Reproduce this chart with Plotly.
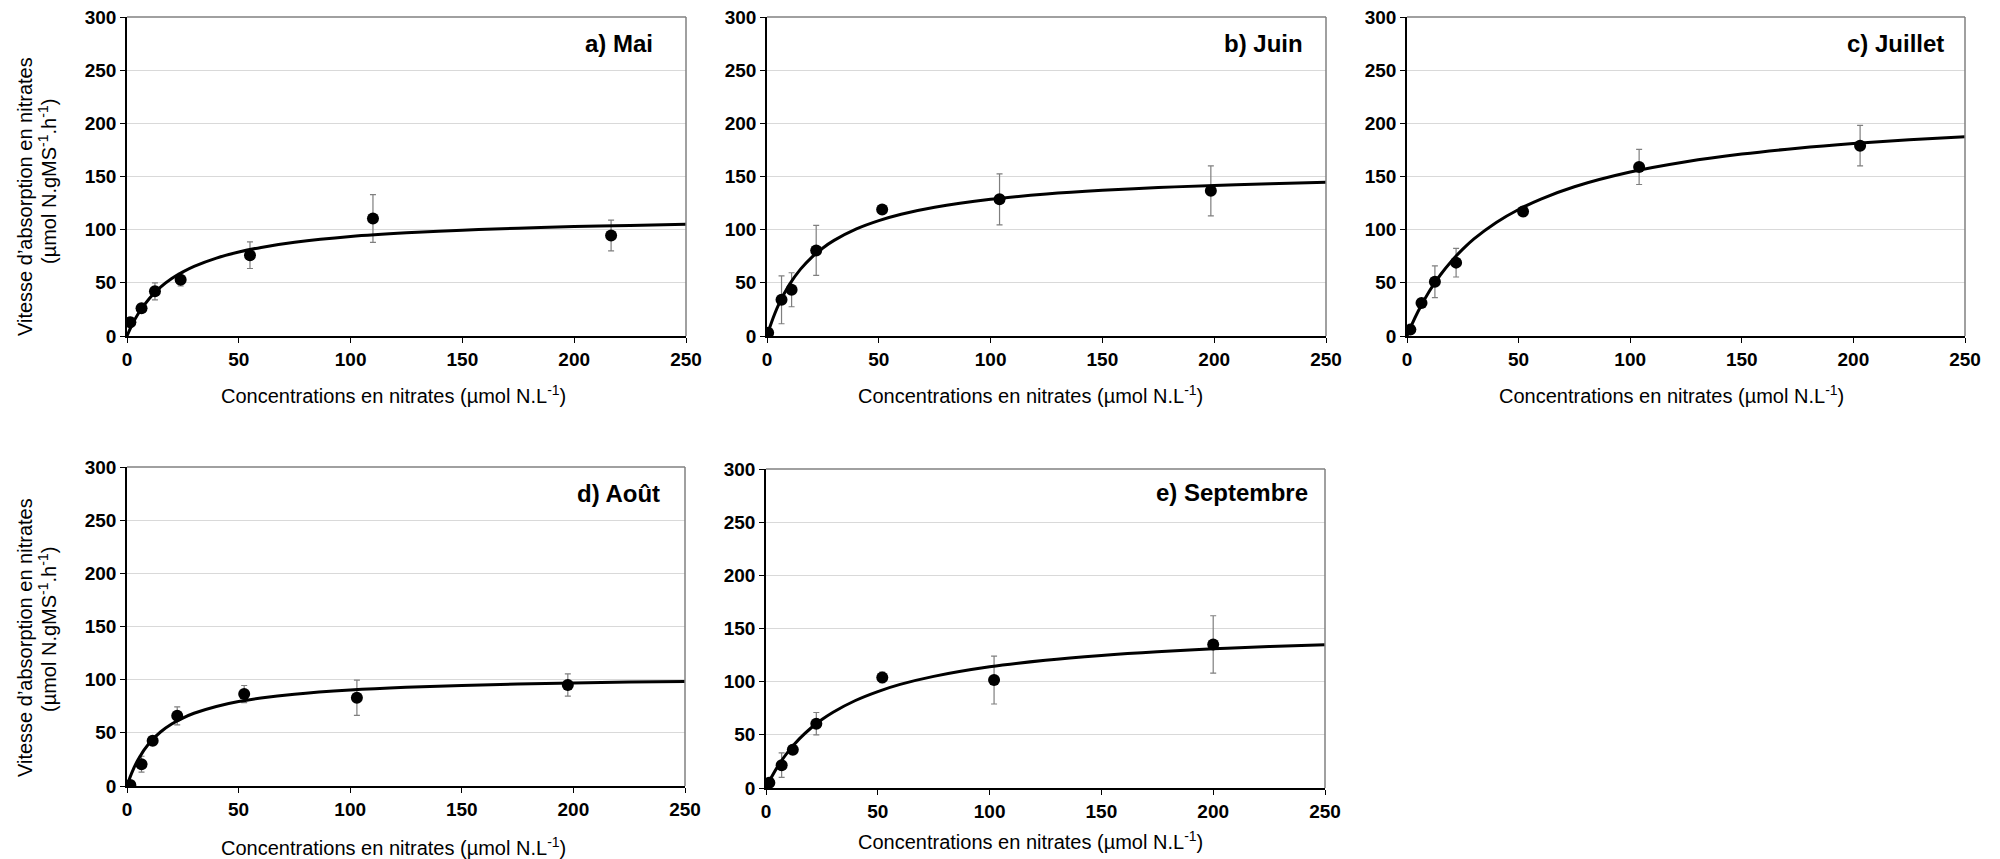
import plotly.graph_objects as go

# ---------------- data ----------------
panel_titles = ["a) Mai", "b) Juin", "c) Juillet", "d) Août", "e) Septembre"]

x_ticks = [0, 50, 100, 150, 200, 250]
y_ticks = [0, 50, 100, 150, 200, 250, 300]

mai_x = [1.5, 6.5, 12.5, 24, 55, 110, 216.5]
mai_y = [13, 26, 42, 53, 76, 110.5, 94.5]
mai_err = [2, 2, 8, 6, 12.5, 22.5, 14.5]

juin_x = [0.5, 6.5, 11, 22, 51.5, 104, 198.5]
juin_y = [3, 34, 43.5, 80.5, 119, 128.5, 136.5]
juin_err = [2, 22.5, 16, 23.5, 2, 24, 23.5]

juillet_x = [1.5, 6.5, 12.5, 22, 52, 104, 203]
juillet_y = [6, 31, 51, 69, 117, 159, 179]
juillet_err = [2, 2, 15, 13.5, 2, 16.5, 19]

aout_x = [1.5, 6.5, 11.5, 22.5, 52.5, 103, 197.5]
aout_y = [1, 20.5, 42.5, 66, 86.5, 83, 95]
aout_err = [2, 7.5, 2, 8.5, 8, 16.5, 10.5]

sept_x = [1.5, 7, 12, 22.5, 52, 102, 200]
sept_y = [5, 21.5, 36, 60.5, 104, 101.5, 135]
sept_err = [2, 11.5, 4, 10.5, 5, 22.5, 27]

# fitted curves
fit_x = [0, 2, 5, 10, 15, 20, 25, 30, 40, 50, 60, 75, 100, 125, 150, 175, 200, 225, 250]
mai_fit = [0, 9.4, 20.9, 35.3, 45.9, 54.0, 60.3, 65.5, 73.3, 79.0, 83.3, 88.1, 93.5, 97.0, 99.5, 101.4, 102.9, 104.0, 105.0]
juin_fit = [0, 12.8, 28.6, 48.3, 62.9, 74.0, 82.8, 89.9, 100.7, 108.5, 114.5, 121.1, 128.5, 133.5, 137.0, 139.6, 141.6, 143.2, 144.5]
juillet_fit = [0, 10.0, 23.3, 42.1, 57.6, 70.6, 81.7, 91.3, 106.8, 119.0, 128.8, 140.4, 154.2, 163.9, 171.1, 176.6, 181.0, 184.6, 187.5]
aout_fit = [0, 11.7, 25.0, 40.4, 50.8, 58.3, 63.9, 68.4, 74.8, 79.4, 82.7, 86.3, 90.2, 92.8, 94.6, 95.9, 96.9, 97.7, 98.3]
sept_fit = [0, 8.4, 19.4, 34.4, 46.4, 56.2, 64.4, 71.3, 82.3, 90.7, 97.4, 105.0, 114.0, 120.2, 124.7, 128.2, 130.9, 133.0, 134.8]

x_title = "Concentrations en nitrates (µmol N.L<sup>-1</sup>)"
y_title_1 = "Vitesse d’absorption en nitrates"
y_title_2 = "(µmol N.gMS<sup>-1</sup>.h<sup>-1</sup>)"

# ---------------- layout geometry (pixels) ----------------
W, H = 2000, 859
OFF = 8  # page body margin of the rendered html
FONT = "Liberation Sans, Arial, sans-serif"


def px(p):
    return (p - OFF) / W


def py(p):
    return 1 - (p - OFF) / H


# plot boxes: left, top, right, bottom (screen pixels)
boxes = [
    (127, 17, 686, 336),
    (767, 17, 1326, 336),
    (1407, 17, 1965, 336),
    (127, 467, 685, 786),
    (766, 469, 1325, 788),
]
title_pos = [(655, 43), (1305, 43), (1946, 43), (662, 493), (1310, 492)]
xtitle_pos = [(393, 395), (1031, 395), (1671, 395), (393, 846), (1031, 840)]

series = [
    (mai_x, mai_y, mai_err, mai_fit),
    (juin_x, juin_y, juin_err, juin_fit),
    (juillet_x, juillet_y, juillet_err, juillet_fit),
    (aout_x, aout_y, aout_err, aout_fit),
    (sept_x, sept_y, sept_err, sept_fit),
]

fig = go.Figure()
annotations = []
shapes = []
layout_axes = {}

for i, ((sx, sy, se, sf), box) in enumerate(zip(series, boxes)):
    n = i + 1
    xa = "x" if n == 1 else f"x{n}"
    ya = "y" if n == 1 else f"y{n}"
    l, t, r, b = box
    fig.add_trace(go.Scatter(
        x=sx, y=sy, mode="markers", xaxis=xa, yaxis=ya,
        marker=dict(color="black", size=12, symbol="circle"),
        error_y=dict(type="data", array=se, visible=True, color="#7f7f7f",
                     thickness=1.2, width=3),
        showlegend=False, hoverinfo="skip"))
    fig.add_trace(go.Scatter(
        x=fit_x, y=sf, mode="lines", xaxis=xa, yaxis=ya,
        line=dict(color="black", width=3, shape="spline"),
        showlegend=False, hoverinfo="skip"))

    xkey = "xaxis" if n == 1 else f"xaxis{n}"
    ykey = "yaxis" if n == 1 else f"yaxis{n}"
    layout_axes[xkey] = dict(
        domain=[px(l), px(r)], anchor=ya, range=[0, 250], automargin=False,
        tickvals=x_ticks, ticktext=[str(v) for v in x_ticks],
        showgrid=False, zeroline=False, showline=True, linecolor="black", linewidth=1.5,
        ticks="outside", ticklen=5, tickwidth=1.2, tickcolor="black",
        ticklabeloverflow="allow",
        tickfont=dict(family=FONT, size=19, color="black", weight="bold"),
        fixedrange=True)
    layout_axes[ykey] = dict(
        domain=[py(b), py(t)], anchor=xa, range=[0, 300], automargin=False,
        tickvals=y_ticks, ticktext=[str(v) for v in y_ticks],
        showgrid=True, gridcolor="#d9d9d9", gridwidth=1,
        zeroline=False, showline=True, linecolor="black", linewidth=1.5,
        ticks="outside", ticklen=5, tickwidth=1.2, tickcolor="black",
        ticklabeloverflow="allow",
        tickfont=dict(family=FONT, size=19, color="black", weight="bold"),
        fixedrange=True)

    # top and right frame (grey), in paper coordinates so they are not clipped
    shapes.append(dict(type="line", xref="paper", yref="paper", layer="above",
                       x0=px(l), x1=px(r), y0=py(t), y1=py(t),
                       line=dict(color="#808080", width=1.5)))
    shapes.append(dict(type="line", xref="paper", yref="paper", layer="above",
                       x0=px(r), x1=px(r), y0=py(b), y1=py(t),
                       line=dict(color="#808080", width=1.5)))

    tx, ty = title_pos[i]
    annotations.append(dict(text=panel_titles[i], x=px(tx), y=py(ty), xref="paper", yref="paper",
                            xanchor="right", yanchor="middle", showarrow=False,
                            font=dict(family=FONT, size=24, color="black", weight="bold")))
    ax, ay = xtitle_pos[i]
    annotations.append(dict(text=x_title, x=px(ax), y=py(ay), xref="paper", yref="paper",
                            xanchor="center", yanchor="middle", showarrow=False,
                            font=dict(family=FONT, size=20, color="black")))

# y titles (left column only)
for (c1, c2) in [(197, 182), (638, 630)]:
    annotations.append(dict(text=y_title_1, x=px(25), y=py(c1), xref="paper", yref="paper",
                            xanchor="center", yanchor="middle", textangle=-90, showarrow=False,
                            font=dict(family=FONT, size=20, color="black")))
    annotations.append(dict(text=y_title_2, x=px(47), y=py(c2), xref="paper", yref="paper",
                            xanchor="center", yanchor="middle", textangle=-90, showarrow=False,
                            font=dict(family=FONT, size=20, color="black")))

fig.update_layout(
    width=W, height=H, margin=dict(l=0, r=0, t=0, b=0, autoexpand=False),
    paper_bgcolor="white", plot_bgcolor="white",
    showlegend=False, annotations=annotations, shapes=shapes,
    **layout_axes)

fig.write_html("out.html", config={"displayModeBar": False})
